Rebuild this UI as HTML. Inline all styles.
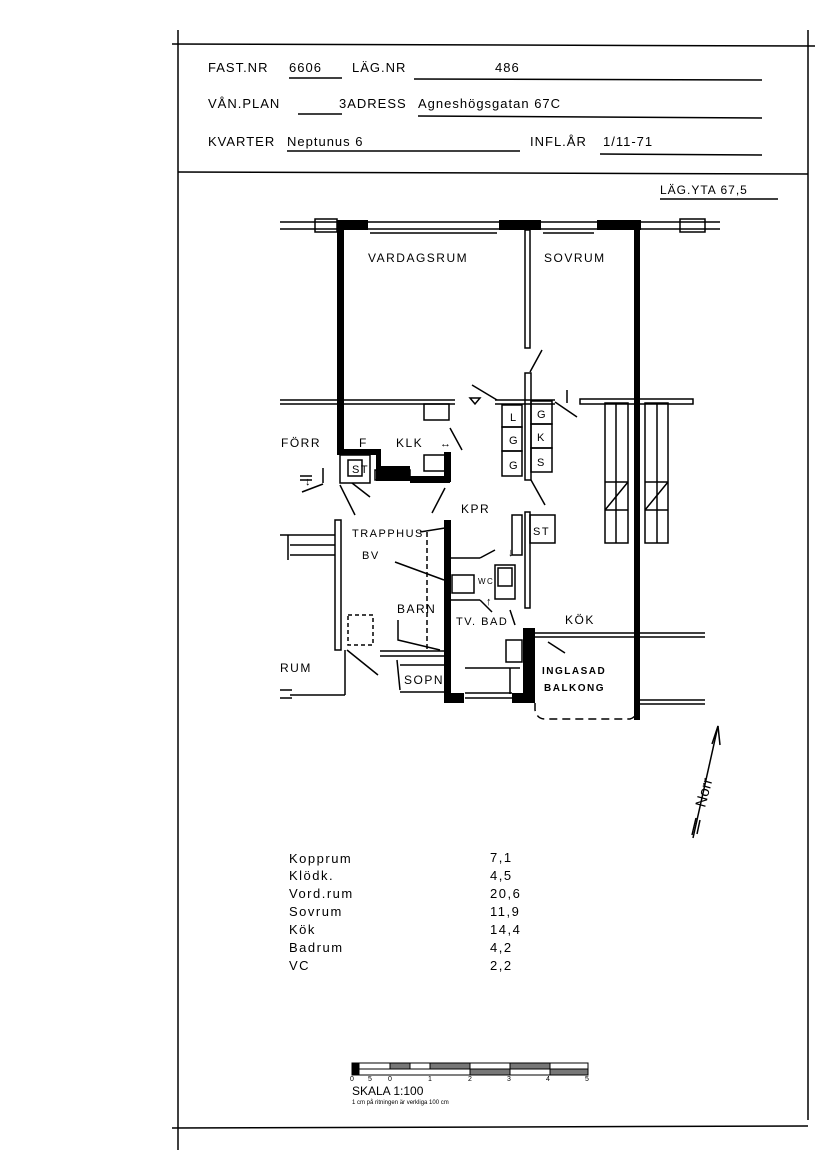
<!DOCTYPE html>
<html><head><meta charset="utf-8"><style>
html,body{margin:0;padding:0;background:#fff}
svg{display:block}
text{font-family:"Liberation Sans",sans-serif;fill:#000}
</style></head><body>
<svg width="827" height="1169" viewBox="0 0 827 1169" xmlns="http://www.w3.org/2000/svg">
<g stroke="#000" fill="none" stroke-width="1.5">
<!-- frame -->
<line x1="178" y1="30" x2="178" y2="1150"/>
<line x1="808" y1="30" x2="808" y2="1120"/>
<line x1="172" y1="44" x2="815" y2="46"/>
<line x1="178" y1="172" x2="808" y2="174"/>
<line x1="172" y1="1128" x2="808" y2="1126"/>
<!-- header lines -->
<line x1="289" y1="78" x2="342" y2="78"/>
<line x1="414" y1="79" x2="762" y2="80"/>
<line x1="298" y1="114" x2="342" y2="114"/>
<line x1="418" y1="116" x2="762" y2="118"/>
<line x1="287" y1="151" x2="520" y2="151"/>
<line x1="600" y1="154" x2="762" y2="155"/>
<line x1="660" y1="199" x2="778" y2="199"/>
</g>
<g font-size="13" letter-spacing="1">
<text x="208" y="72">FAST.NR</text><text x="289" y="72">6606</text><text x="352" y="72">LÄG.NR</text><text x="495" y="72">486</text>
<text x="208" y="108">VÅN.PLAN</text><text x="339" y="108">3ADRESS</text><text x="418" y="108">Agneshögsgatan  67C</text>
<text x="208" y="146">KVARTER</text><text x="287" y="146">Neptunus 6</text><text x="530" y="146">INFL.ÅR</text><text x="603" y="146">1/11-71</text>
<text x="660" y="194" font-size="12">LÄG.YTA 67,5</text>
</g>
<!-- plan -->
<g stroke="#000" fill="none" stroke-width="1.5">
<!-- top windows -->
<line x1="280" y1="222" x2="720" y2="222"/><line x1="280" y1="229" x2="720" y2="229"/>
<rect x="315" y="219" width="22" height="13"/><rect x="680" y="219" width="25" height="13"/>
<line x1="370" y1="233" x2="497" y2="233"/><line x1="543" y1="233" x2="594" y2="233"/>
<!-- partition -->
<rect x="525" y="230" width="5" height="118"/>
<line x1="530" y1="372" x2="542" y2="350"/>
<rect x="525" y="373" width="6" height="107"/>
<line x1="531" y1="480" x2="545" y2="505"/>
<!-- horizontal wall y402 -->
<line x1="280" y1="400" x2="455" y2="400"/><line x1="280" y1="404" x2="455" y2="404"/>
<line x1="495" y1="400" x2="555" y2="400"/><line x1="495" y1="404" x2="555" y2="404"/>
<rect x="580" y="399" width="113" height="5"/>
<line x1="472" y1="385" x2="497" y2="400"/><line x1="555" y1="402" x2="577" y2="417"/>
<path d="M470 398 l5 6 l5 -6 z"/><line x1="567" y1="390" x2="567" y2="403"/>
<!-- cabinets -->
<rect x="502" y="405" width="20" height="22"/><rect x="502" y="427" width="20" height="24"/><rect x="502" y="451" width="20" height="25"/>
<rect x="531" y="401" width="21" height="23"/><rect x="531" y="424" width="21" height="24"/><rect x="531" y="448" width="21" height="24"/>
<rect x="424" y="404" width="25" height="16"/><rect x="424" y="455" width="25" height="16"/>
<line x1="450" y1="428" x2="462" y2="450"/>
<!-- storage right -->
<rect x="605" y="403" width="23" height="140"/><rect x="645" y="403" width="23" height="140"/>
<line x1="616" y1="403" x2="616" y2="543"/><line x1="657" y1="403" x2="657" y2="543"/>
<line x1="605" y1="482" x2="628" y2="482"/><line x1="605" y1="510" x2="628" y2="510"/>
<line x1="645" y1="482" x2="668" y2="482"/><line x1="645" y1="510" x2="668" y2="510"/>
<line x1="605" y1="510" x2="628" y2="482"/><line x1="645" y1="510" x2="668" y2="482"/>
<!-- F / ST area -->
<rect x="340" y="455" width="30" height="28"/><rect x="348" y="460" width="14" height="16"/>
<rect x="375" y="470" width="35" height="10"/>
<line x1="300" y1="476" x2="312" y2="476"/><line x1="300" y1="480" x2="312" y2="480"/>
<line x1="323" y1="468" x2="323" y2="483"/>
<line x1="323" y1="484" x2="302" y2="492"/><line x1="352" y1="483" x2="370" y2="497"/>
<line x1="340" y1="485" x2="355" y2="515"/><line x1="445" y1="488" x2="432" y2="513"/>
<!-- trapphus -->
<rect x="335" y="520" width="6" height="130"/>
<line x1="280" y1="535" x2="335" y2="535"/><line x1="290" y1="545" x2="335" y2="545"/><line x1="290" y1="555" x2="335" y2="555"/>
<line x1="288" y1="535" x2="288" y2="560"/>
<rect x="348" y="615" width="25" height="30" stroke-dasharray="4 3"/>
<line x1="347" y1="650" x2="378" y2="675"/>
<line x1="345" y1="650" x2="345" y2="695"/><line x1="290" y1="695" x2="345" y2="695"/>
<line x1="280" y1="690" x2="292" y2="690"/><line x1="280" y1="698" x2="292" y2="698"/>
<line x1="427" y1="532" x2="427" y2="650" stroke-dasharray="5 3"/>
<line x1="420" y1="532" x2="445" y2="528"/>
<line x1="395" y1="562" x2="444" y2="580"/>
<path d="M398 620 L398 640 L440 650"/><line x1="380" y1="651" x2="444" y2="651"/><line x1="380" y1="656" x2="444" y2="656"/>
<path d="M397 660 L400 690"/><line x1="400" y1="665" x2="444" y2="665"/><line x1="400" y1="692" x2="444" y2="692"/>
<!-- bathroom -->
<rect x="452" y="575" width="22" height="18"/>
<line x1="450" y1="558" x2="480" y2="558"/><line x1="480" y1="558" x2="495" y2="550"/>
<line x1="450" y1="600" x2="480" y2="600"/><line x1="480" y1="600" x2="492" y2="612"/>
<rect x="498" y="568" width="14" height="18"/><rect x="495" y="565" width="20" height="34"/>
<rect x="512" y="515" width="10" height="40"/><rect x="525" y="512" width="5" height="96"/>
<rect x="530" y="515" width="25" height="28"/>
<line x1="510" y1="610" x2="515" y2="625"/>
<rect x="506" y="640" width="16" height="22"/>
<line x1="548" y1="642" x2="565" y2="653"/>
<line x1="465" y1="668" x2="520" y2="668"/><line x1="510" y1="668" x2="510" y2="694"/>
<line x1="465" y1="693" x2="512" y2="693"/><line x1="465" y1="698" x2="512" y2="698"/>
<!-- kitchen wall -->
<line x1="535" y1="633" x2="705" y2="633"/><line x1="535" y1="637" x2="705" y2="637"/>
<line x1="640" y1="700" x2="705" y2="700"/><line x1="640" y1="704" x2="705" y2="704"/>
<path d="M535 703 L535 710 Q537 719 545 719 L630 719 Q637 717 638 708" stroke-dasharray="8 5"/>
</g>
<g fill="#000">
<rect x="337" y="220" width="31" height="10"/><rect x="499" y="220" width="42" height="10"/><rect x="597" y="220" width="44" height="10"/>
<rect x="337" y="225" width="7" height="230"/>
<path d="M337 449 H381 V466 H410 V476 H450 V483 H410 V481 H376 V455 H337 Z"/>
<rect x="444" y="452" width="7" height="30"/>
<rect x="634" y="225" width="6" height="495"/>
<rect x="444" y="520" width="7" height="183"/><rect x="444" y="693" width="20" height="10"/>
<rect x="523" y="628" width="12" height="75"/><rect x="512" y="693" width="23" height="10"/>
</g>
<g font-size="12" letter-spacing="1.5">
<text x="368" y="262">VARDAGSRUM</text><text x="544" y="262">SOVRUM</text>
<text x="281" y="447">FÖRR</text><text x="359" y="447">F</text><text x="396" y="447">KLK</text><text x="440" y="447" font-size="11">↔</text>
<text x="510" y="421" font-size="11">L</text><text x="509" y="444" font-size="11">G</text><text x="509" y="469" font-size="11">G</text>
<text x="537" y="418" font-size="11">G</text><text x="537" y="441" font-size="11">K</text><text x="537" y="466" font-size="11">S</text>
<text x="352" y="473" font-size="11">ST</text><text x="305" y="485" font-size="11">↕</text>
<text x="461" y="513">KPR</text><text x="533" y="535" font-size="11">ST</text>
<text x="352" y="537" font-size="11">TRAPPHUS</text><text x="362" y="559" font-size="11">BV</text>
<text x="397" y="613">BARN</text><text x="456" y="625" font-size="11">TV. BAD</text>
<text x="478" y="584" font-size="8">WC</text><text x="486" y="605" font-size="11">↑</text><text x="508" y="556" font-size="11">↓</text>
<text x="565" y="624">KÖK</text>
<text x="280" y="672">RUM</text><text x="404" y="684">SOPN</text>
<text x="542" y="674" font-size="10" font-weight="bold">INGLASAD</text><text x="544" y="691" font-size="10" font-weight="bold">BALKONG</text>
</g>
<!-- north arrow -->
<g stroke="#000" stroke-width="1.5" fill="none">
<line x1="693" y1="838" x2="718" y2="726"/>
<path d="M712 744 L718 726 L720 745"/>
<line x1="696" y1="818" x2="692" y2="835"/><line x1="700" y1="820" x2="697" y2="834"/>
</g>
<text transform="translate(705,808) rotate(-75)" font-size="15" font-family="Liberation Sans">Norr</text>
<!-- table -->
<g font-size="13" letter-spacing="1.5">
<text x="289" y="863">Kopprum</text><text x="490" y="862">7,1</text>
<text x="289" y="880">Klödk.</text><text x="490" y="880">4,5</text>
<text x="289" y="898">Vord.rum</text><text x="490" y="898">20,6</text>
<text x="289" y="916">Sovrum</text><text x="490" y="916">11,9</text>
<text x="289" y="934">Kök</text><text x="490" y="934">14,4</text>
<text x="289" y="952">Badrum</text><text x="490" y="952">4,2</text>
<text x="289" y="970">VC</text><text x="490" y="970">2,2</text>
</g>
<!-- scale bar -->
<g stroke="#000" stroke-width="1" fill="none">
<rect x="352" y="1063" width="236" height="12"/>
<line x1="352" y1="1069" x2="588" y2="1069"/>
<rect x="353" y="1063" width="6" height="12" fill="#000"/>
<rect x="390" y="1063" width="20" height="6" fill="#777"/>
<rect x="430" y="1063" width="40" height="6" fill="#777"/>
<rect x="470" y="1069" width="40" height="6" fill="#777"/>
<rect x="510" y="1063" width="40" height="6" fill="#777"/>
<rect x="550" y="1069" width="38" height="6" fill="#777"/>
</g>
<g font-size="7"><text x="350" y="1081">0</text><text x="368" y="1081">5</text><text x="388" y="1081">0</text><text x="428" y="1081">1</text><text x="468" y="1081">2</text><text x="507" y="1081">3</text><text x="546" y="1081">4</text><text x="585" y="1081">5</text></g>
<text x="352" y="1095" font-size="12">SKALA 1:100</text>
<text x="352" y="1104" font-size="6">1 cm på ritningen är verkliga 100 cm</text>
</svg>
</body></html>
